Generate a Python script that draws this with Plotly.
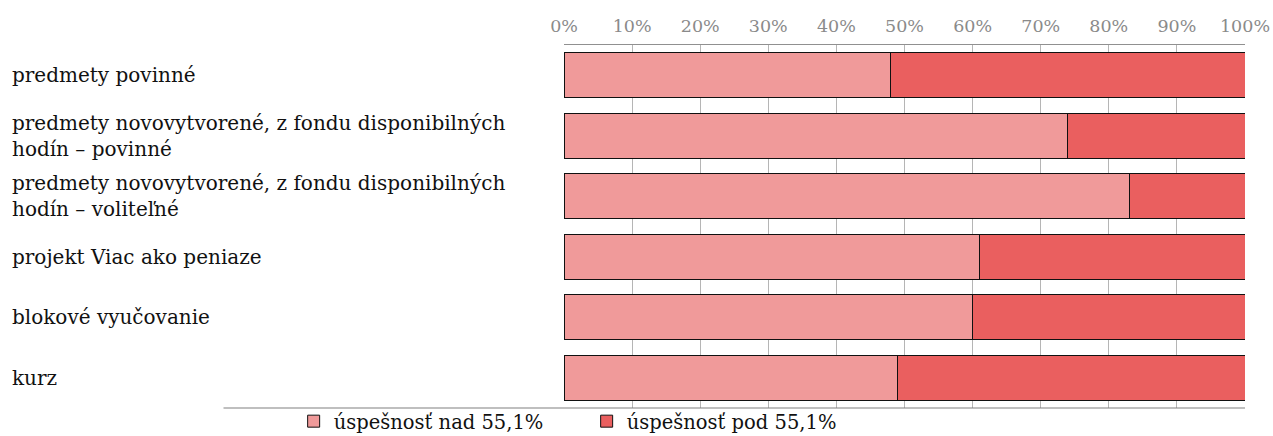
import plotly.graph_objects as go

# Kategórie (poradie zhora nadol)
categories = [
    "predmety povinné",
    "predmety novovytvorené, z fondu disponibilných<br>hodín – povinné",
    "predmety novovytvorené, z fondu disponibilných<br>hodín – voliteľné",
    "projekt Viac ako peniaze",
    "blokové vyučovanie",
    "kurz",
]
cat_ids = ["c1", "c2", "c3", "c4", "c5", "c6"]

# Podiely v percentách
above = [48, 74, 83, 61, 60, 49]
below = [52, 26, 17, 39, 40, 51]

series_names = ["úspešnosť nad 55,1%", "úspešnosť pod 55,1%"]
series_colors = ["#F09A9A", "#EA5F5F"]

FONT = "DejaVu Serif"
TXT = 20

fig = go.Figure()
for name, vals, col in zip(series_names, [above, below], series_colors):
    fig.add_trace(go.Bar(
        y=cat_ids, x=vals, name=name, orientation="h",
        marker=dict(color=col, line=dict(color="#111111", width=1)),
        hoverinfo="x+name",
    ))

# Popisy kategórií zarovnané doľava
for cid, label in zip(cat_ids, categories):
    fig.add_annotation(
        x=-0.8135, xref="paper", y=cid, yref="y",
        text=label, showarrow=False, xanchor="left", yanchor="middle",
        align="left", font=dict(family=FONT, size=TXT, color="#111111"),
    )

# Spodná čiara pod grafom
fig.add_shape(type="line", xref="paper", yref="paper",
              x0=-0.5, x1=1, y0=0, y1=0,
              line=dict(color="#808080", width=1.2))

fig.update_layout(
    width=1273, height=436,
    margin=dict(l=564, r=28, t=45, b=28, autoexpand=False),
    barmode="stack", bargap=0.256,
    plot_bgcolor="white", paper_bgcolor="white",
    showlegend=True,
    legend=dict(
        orientation="h", traceorder="normal",
        x=-0.397, xanchor="left", xref="paper",
        y=0.078, yanchor="top", yref="container",
        font=dict(family=FONT, size=19.5, color="#111111"),
        entrywidth=248, entrywidthmode="pixels",
        itemclick=False, itemdoubleclick=False,
        bgcolor="rgba(0,0,0,0)",
    ),
    xaxis=dict(
        range=[0, 100], dtick=10, ticksuffix="%", side="top",
        showgrid=True, gridcolor="#b5b5b5", gridwidth=1,
        showline=True, linecolor="#909090", linewidth=1.2,
        zeroline=False, ticks="", ticklabelstandoff=5,
        tickfont=dict(family=FONT, size=17.5, color="#8a8a8a"),
        automargin=False, fixedrange=True,
    ),
    yaxis=dict(
        categoryorder="array", categoryarray=cat_ids, autorange="reversed",
        showticklabels=False, showgrid=False, zeroline=False, showline=False,
        automargin=False, fixedrange=True,
    ),
)

fig.write_html("out.html")
